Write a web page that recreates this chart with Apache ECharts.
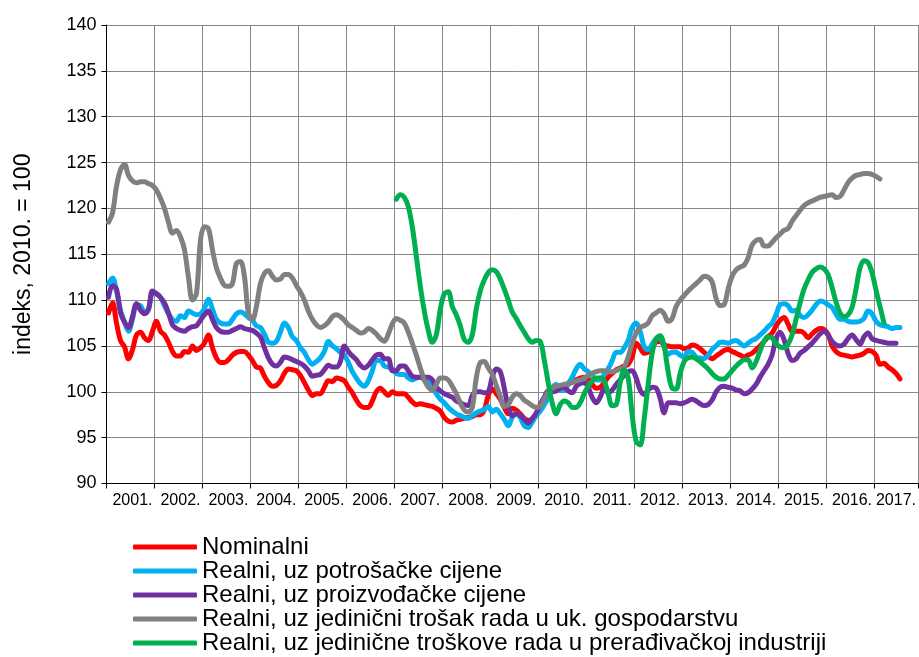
<!DOCTYPE html>
<html>
<head>
<meta charset="utf-8">
<script src="https://cdn.jsdelivr.net/npm/echarts@6/dist/echarts.min.js"></script>
<style>
html,body{margin:0;padding:0;background:#fff;}
#chart{width:919px;height:657px;}
</style>
</head>
<body>
<div id="chart"></div>
<script>
// Year labels (x axis); monthly data Jan 2001 onward
const years = ['2001.','2002.','2003.','2004.','2005.','2006.','2007.','2008.','2009.','2010.','2011.','2012.','2013.','2014.','2015.','2016.','2017.'];
const monthsShown = 203;

const yMin = 90, yMax = 140, yStep = 5;

// Nominalni (from Jan 2001)
const nominalni = [
108.6,109.7,107.5,105.6,104.9,103.6,104.6,106.2,106.5,105.9,105.6,106.6,
107.7,106.6,106.2,105.4,104.4,103.9,103.9,104.4,104.3,105.0,104.5,104.8,
105.3,106.2,104.8,103.7,103.2,103.2,103.5,104.0,104.3,104.4,104.4,104.0,
103.4,102.7,102.6,101.7,101.0,100.6,100.7,101.2,102.0,102.5,102.4,102.3,
101.8,101.0,100.2,99.6,99.8,99.8,100.5,101.2,101.1,101.5,101.4,101.2,
100.5,99.9,99.1,98.5,98.3,98.3,99.0,100.0,100.4,100.0,99.6,100.0,
99.8,99.8,99.8,99.4,98.9,98.6,98.7,98.6,98.5,98.4,98.2,97.9,
97.2,96.8,96.7,96.9,97.0,97.1,97.2,97.3,97.5,97.5,98.0,99.6,
100.3,99.8,99.2,98.3,97.6,98.2,98.0,97.6,97.1,96.9,97.0,97.4,
98.2,99.0,99.7,100.2,100.4,100.4,100.5,100.8,101.1,101.3,101.5,101.6,
101.4,100.8,100.4,100.5,101.0,101.6,102.0,102.4,102.6,102.8,103.0,103.8,
105.3,104.8,104.2,104.3,104.9,105.4,105.5,105.1,105.0,104.9,104.9,104.9,
104.7,104.8,105.1,105.0,104.7,104.3,103.9,103.6,103.9,104.2,104.5,104.6,
104.4,104.2,104.0,103.8,104.0,104.2,104.6,105.0,105.5,106.0,106.4,107.2,
107.8,108.1,107.4,106.6,106.6,106.6,106.4,105.9,106.3,106.7,106.9,106.8,
106.3,105.0,104.4,104.1,104.0,103.9,103.8,103.9,104.0,104.2,104.5,104.4,
104.0,103.0,103.1,102.7,102.4,102.0,101.4
];

// Realni, uz potrošačke cijene
const realniPotrosacke = [
111.8,112.4,111.0,108.9,107.6,106.6,107.9,109.5,109.4,108.7,109.0,110.7,
110.7,110.3,109.4,108.5,107.9,107.7,108.3,108.1,108.8,108.6,108.4,108.5,
109.1,110.1,109.0,107.9,107.5,107.4,107.4,107.9,108.5,108.7,108.5,108.1,
107.8,107.2,107.0,106.3,105.4,105.3,105.5,106.5,107.5,107.0,106.0,105.6,
104.8,104.3,103.5,103.0,103.3,103.7,104.4,105.5,105.0,104.7,104.3,104.0,
103.2,102.2,101.5,100.9,100.6,101.2,102.3,103.4,103.4,102.8,102.7,102.5,
102.0,101.9,101.9,101.5,101.3,101.5,101.6,101.3,101.0,100.5,99.8,99.2,
98.8,98.3,97.9,97.6,97.4,97.2,97.1,97.4,97.7,97.9,98.1,98.4,
97.8,98.1,97.6,97.0,96.3,97.2,97.6,97.2,96.3,96.1,96.7,97.4,
97.9,98.6,99.3,100.4,100.8,100.2,100.2,100.9,101.6,102.5,103.0,102.5,
102.2,101.8,101.3,101.3,101.9,102.5,103.4,104.3,104.3,104.8,105.6,107.0,
107.5,106.6,104.9,104.6,105.2,105.8,105.9,104.9,104.1,104.3,104.3,104.0,
103.8,104.4,104.3,103.8,103.7,103.6,104.0,104.6,105.0,105.4,105.4,105.3,
105.5,105.6,105.3,105.0,105.3,105.6,105.8,106.2,106.6,107.1,107.5,108.4,
109.5,109.6,109.4,108.8,108.9,108.3,108.1,108.4,108.9,109.5,109.9,109.8,
109.5,109.2,108.5,107.9,107.9,107.7,107.6,107.6,107.7,108.0,108.8,108.5,
107.7,107.3,107.2,107.1,106.9,107.0,107.0
];

// Realni, uz proizvođačke cijene
const realniProizvodacke = [
110.3,111.6,111.2,108.6,107.6,107.0,108.2,109.6,108.9,108.5,109.0,111.0,
110.7,110.3,109.7,108.6,107.3,106.9,106.7,106.6,106.9,107.1,107.2,107.8,
108.4,108.8,107.9,107.0,106.6,106.5,106.5,106.7,106.9,107.1,106.9,106.8,
106.7,106.4,106.0,104.8,103.7,103.0,102.8,103.2,103.8,103.7,103.5,103.3,
103.1,102.8,102.3,101.7,101.8,101.9,102.4,102.9,102.7,102.7,103.3,105.0,
104.4,103.9,103.5,102.9,102.6,102.9,103.5,104.0,104.1,103.6,103.6,102.3,
102.3,102.8,102.8,102.3,101.7,101.6,101.6,101.6,101.6,101.3,100.5,100.1,
99.8,99.6,99.4,99.0,98.8,98.6,98.5,99.6,100.0,100.0,99.9,100.0,
101.6,102.5,102.2,100.4,98.3,97.4,97.6,97.4,97.0,96.6,97.1,97.7,
98.6,99.4,100.1,100.0,100.1,100.4,100.5,100.1,99.9,100.6,100.9,101.0,
100.5,99.4,98.8,99.4,100.3,99.9,100.2,100.8,101.3,101.8,102.2,102.3,
101.5,100.2,99.7,100.2,100.5,100.4,99.3,97.7,98.8,98.8,98.8,98.7,
98.8,99.0,99.2,99.0,98.7,98.5,98.6,99.1,100.0,100.5,100.6,100.5,
100.4,100.2,100.1,99.8,99.9,100.3,100.8,101.6,102.3,103.0,104.0,105.8,
106.5,105.7,104.2,103.4,103.6,104.2,104.5,104.9,105.3,105.8,106.3,106.6,
106.2,105.5,105.1,105.0,105.2,105.8,106.2,105.7,105.2,106.0,106.4,105.8,
105.6,105.5,105.4,105.3,105.3,105.3
];

// Realni, uz jedinični trošak rada u uk. gospodarstvu
const realniJedTrosakUk = [
118.5,119.5,122.4,124.2,124.8,123.6,123.0,122.8,122.9,122.9,122.7,122.5,
122.0,121.1,120.0,118.5,117.3,117.6,116.9,115.5,112.5,110.0,110.7,116.5,
118.0,117.8,115.5,113.5,112.4,111.6,111.5,111.8,114.0,114.2,112.6,108.6,
107.9,109.3,111.8,112.9,113.2,112.6,112.2,112.3,112.8,112.8,112.4,111.6,
110.9,110.0,108.8,107.9,107.3,107.0,107.2,107.6,108.2,108.4,108.2,107.8,
107.3,107.0,106.7,106.4,106.5,106.9,106.7,106.3,105.8,105.5,106.3,107.4,
108.0,107.8,107.5,106.5,105.3,104.0,102.6,101.3,100.5,100.2,100.8,101.5,
101.5,101.3,100.6,99.8,98.8,98.0,97.8,98.3,101.5,103.2,103.3,102.6,
101.9,100.7,99.5,98.4,98.6,99.4,99.8,99.6,99.1,98.8,98.5,98.3,
98.4,99.2,100.0,100.4,100.6,100.7,100.8,100.9,101.0,101.2,101.3,101.5,
101.8,102.0,102.2,102.3,102.3,102.2,102.2,102.3,102.5,102.7,103.8,105.3,
106.4,107.0,107.2,107.5,108.3,108.6,108.9,108.5,107.7,108.0,109.3,110.0,
110.5,111.0,111.4,111.8,112.2,112.6,112.5,112.0,110.2,109.4,109.5,111.2,
112.6,113.3,113.6,113.8,114.6,116.0,116.5,116.6,115.9,115.9,116.3,116.8,
117.2,117.6,117.8,118.6,119.2,119.8,120.3,120.6,120.8,121.0,121.2,121.3,
121.4,121.5,121.2,121.3,122.0,122.8,123.3,123.6,123.7,123.8,123.8,123.7,
123.5,123.2
];

// Realni, uz jedinične troškove rada u prerađivačkoj industriji (from Jan 2007)
const industrijaStart = '2007.';
const realniJedTroskoveInd = [
121.0,121.5,121.2,120.2,118.0,114.8,111.5,108.8,106.7,105.4,106.2,109.0,
110.7,110.9,109.3,108.4,107.2,105.7,105.4,106.2,109.0,111.0,112.2,113.0,
113.3,113.1,112.3,111.2,110.0,108.7,108.0,107.2,106.5,105.8,105.4,105.6,
105.5,103.5,101.0,98.8,97.6,98.6,99.0,98.8,98.3,98.3,98.8,99.8,
100.6,101.2,101.5,101.5,101.2,99.8,98.5,98.6,101.0,102.4,101.5,97.5,
94.6,94.2,97.0,100.8,104.2,105.8,106.1,105.0,102.2,100.4,100.3,102.0,
103.3,103.7,103.8,103.6,103.3,102.9,102.5,102.0,101.6,101.4,101.4,101.8,
102.3,102.8,103.2,103.5,103.5,102.6,103.3,104.5,105.5,106.0,105.9,105.2,
104.9,104.8,105.2,106.2,107.9,109.7,111.2,112.2,113.0,113.4,113.6,113.4,
112.8,111.4,109.8,108.6,108.2,108.4,109.2,111.2,113.5,114.3,114.1,113.0,
111.1,109.3,107.5
];

const seriesNames = [
  'Nominalni',
  'Realni, uz potrošačke cijene',
  'Realni, uz proizvođačke cijene',
  'Realni, uz jedinični trošak rada u uk. gospodarstvu',
  'Realni, uz jedinične troškove rada u prerađivačkoj industriji'
];
const seriesColors = ['#FF0000','#00B0F0','#7030A0','#808080','#00B050'];

// build monthly categories
const categories = [];
years.forEach(y => { for (let m = 1; m <= 12; m++) categories.push(y + '|' + m); });
categories.length = monthsShown;

function pad(arr, startIdx) {
  const out = new Array(monthsShown).fill(null);
  arr.forEach((v, i) => { if (startIdx + i < monthsShown) out[startIdx + i] = v; });
  return out;
}
const indStartIdx = years.indexOf(industrijaStart) * 12;
const allData = [
  pad(nominalni, 0),
  pad(realniPotrosacke, 0),
  pad(realniProizvodacke, 0),
  pad(realniJedTrosakUk, 0),
  pad(realniJedTroskoveInd, indStartIdx)
];

const lastYearLabelIdx = (years.length - 1) * 12 + Math.floor((monthsShown - (years.length - 1) * 12) / 2);

const font = "'Liberation Sans', Arial, sans-serif";
const chart = echarts.init(document.getElementById('chart'), null, {renderer: 'canvas'});
chart.setOption({
  animation: false,
  backgroundColor: '#ffffff',
  textStyle: {fontFamily: font, color: '#000'},
  grid: {left: 106.5, right: 0.5, top: 25, bottom: 173.5, containLabel: false},
  legend: {
    orient: 'vertical',
    left: 133,
    top: 535,
    height: 122,
    padding: 0,
    icon: 'roundRect',
    itemWidth: 64,
    itemHeight: 5,
    itemGap: 0,
    textStyle: {fontFamily: font, fontSize: 24, color: '#000', lineHeight: 24},
    data: seriesNames
  },
  xAxis: {
    type: 'category',
    data: categories,
    boundaryGap: true,
    axisLine: {show: true, lineStyle: {color: '#000', width: 1}},
    axisTick: {show: true, length: 5, lineStyle: {color: '#000'}, interval: (i) => i % 12 === 0},
    splitLine: {show: true, lineStyle: {color: '#888888', width: 1}, interval: (i) => i % 12 === 0},
    axisLabel: {
      fontFamily: font, fontSize: 16, color: '#000', margin: 9,
      interval: (i) => (i < (years.length - 1) * 12 ? i % 12 === 6 : i === lastYearLabelIdx),
      formatter: (v) => v.split('|')[0]
    }
  },
  yAxis: {
    type: 'value',
    min: yMin, max: yMax, interval: yStep,
    name: 'indeks, 2010. = 100',
    nameLocation: 'middle',
    nameRotate: 90,
    nameGap: 71,
    nameTextStyle: {fontFamily: font, fontSize: 23, color: '#000'},
    axisLine: {show: true, lineStyle: {color: '#000', width: 1}},
    axisTick: {show: true, length: 5, lineStyle: {color: '#000'}},
    splitLine: {show: true, lineStyle: {color: '#888888', width: 1}},
    axisLabel: {fontFamily: font, fontSize: 18, color: '#000', margin: 10}
  },
  series: seriesNames.map((n, k) => ({
    name: n,
    type: 'line',
    data: allData[k],
    showSymbol: false,
    symbol: 'none',
    smooth: 0.35,
    connectNulls: false,
    color: seriesColors[k],
    lineStyle: {width: 5, color: seriesColors[k], cap: 'round', join: 'round'},
    z: 2 + k
  }))
});
</script>
</body>
</html>
